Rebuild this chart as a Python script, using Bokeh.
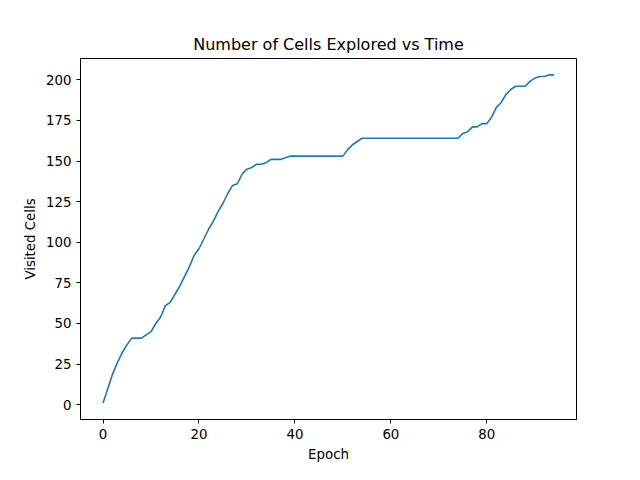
from bokeh.plotting import figure
from bokeh.models import Range1d, FixedTicker
from bokeh.embed import file_html
from bokeh.resources import INLINE

epochs = list(range(95))
visited = [1,10,19,26,32,37,41,41,41,43,45,50,54,61,63,68,73,79,85,92,
           96,102,108,113,119,124,130,135,136,142,145,146,148,148,149,151,151,151,152,153,
           153,153,153,153,153,153,153,153,153,153,153,157,160,162,164,164,164,164,164,164,
           164,164,164,164,164,164,164,164,164,164,164,164,164,164,164,167,168,171,171,173,
           173,177,183,186,191,194,196,196,196,199,201,202,202,203,203]
xticks = [0,20,40,60,80]
yticks = [0,25,50,75,100,125,150,175,200]

p = figure(width=624, height=464, output_backend="svg", toolbar_location=None,
           title="Number of Cells Explored vs Time",
           x_range=Range1d(-4.7, 98.7), y_range=Range1d(-9.1, 213.1),
           min_border_left=80, min_border_right=48, min_border_top=58, min_border_bottom=37)
p.line(epochs, visited, line_color="#1f77b4", line_width=1.6)
p.title.align = "center"
p.title.text_font = "DejaVu Sans"
p.title.text_font_size = "12pt"
p.title.text_font_style = "normal"
p.title.text_color = "black"
p.xaxis.axis_label = "Epoch"
p.yaxis.axis_label = "Visited Cells"
for ax in (p.xaxis, p.yaxis):
    ax.axis_label_text_font = "DejaVu Sans"
    ax.axis_label_text_font_style = "normal"
    ax.axis_label_text_font_size = "10pt"
    ax.axis_label_text_color = "black"
    ax.major_label_text_font = "DejaVu Sans"
    ax.major_label_text_font_size = "10pt"
    ax.major_label_text_color = "black"
    ax.minor_tick_line_color = None
    ax.major_tick_in = 0
    ax.major_tick_out = 4
    ax.axis_line_color = "black"
    ax.major_tick_line_color = "black"
p.xaxis.ticker = FixedTicker(ticks=xticks)
p.yaxis.ticker = FixedTicker(ticks=yticks)
p.grid.grid_line_color = None
p.outline_line_color = "black"
p.outline_line_alpha = 1
open("out.html", "w").write(file_html(p, INLINE))
